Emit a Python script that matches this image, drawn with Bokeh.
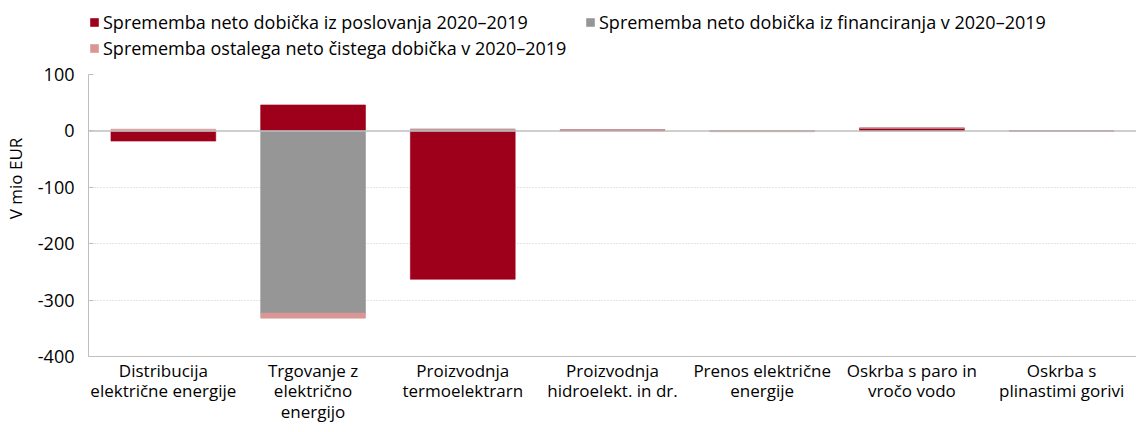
from bokeh.plotting import figure
from bokeh.models import ColumnDataSource, Legend, LegendItem, FixedTicker, Span, Range1d, FactorRange
from bokeh.embed import file_html
from bokeh.resources import INLINE
import numpy as np

categories = [
    "Distribucija\nelektrične energije",
    "Trgovanje z\nelektrično\nenergijo",
    "Proizvodnja\ntermoelektrarn",
    "Proizvodnja\nhidroelekt. in dr.",
    "Prenos električne\nenergije",
    "Oskrba s paro in\nvročo vodo",
    "Oskrba s\nplinastimi gorivi",
]
poslovanje = [-18, 46, -263, 2, 0, 5, 0]
financiranje = [0, -323, 3, 0, -0.5, 0, -0.7]
ostalo = [3, -9, 0, 0, -1, 0, -0.3]
series_names = [
    "Sprememba neto dobička iz poslovanja 2020\u20132019",
    "Sprememba neto dobička iz financiranja v 2020\u20132019",
    "Sprememba ostalega neto čistega dobička v 2020\u20132019",
]
colors = ["#9E001C", "#969696", "#D99694"]
y_ticks = [100, 0, -100, -200, -300, -400]
y_tick_labels = ["100", "0", "-100", "-200", "-300", "-400"]
grid_ticks = [-100, -200, -300]

FONT = "Open Sans"

# frame spans the whole top of the figure so the legend can sit inside it;
# the y axis is bounded to -400..100, and the range extends upward to leave room
FRAME_BOTTOM = 356
Y_TOP_PX = 74
y_min, y_max = -400, 100
y_range_end = y_max + Y_TOP_PX * (y_max - y_min) / (FRAME_BOTTOM - Y_TOP_PX)

p = figure(
    x_range=FactorRange(factors=categories),
    y_range=Range1d(y_min, y_range_end),
    width=1136, height=432,
    output_backend="svg", toolbar_location=None,
    min_border_left=87, min_border_right=0, min_border_top=0,
    min_border_bottom=432 - FRAME_BOTTOM,
)
p.outline_line_color = None

series = [poslovanje, financiranje, ostalo]
pos_base = np.zeros(len(categories))
neg_base = np.zeros(len(categories))
renderers = []
for vals, name, col in zip(series, series_names, colors):
    v = np.array(vals, dtype=float)
    bottom = np.where(v >= 0, pos_base, neg_base)
    top = bottom + v
    pos_base = np.where(v >= 0, top, pos_base)
    neg_base = np.where(v < 0, top, neg_base)
    src = ColumnDataSource(dict(x=categories, bottom=bottom, top=top))
    r = p.vbar(x="x", bottom="bottom", top="top", width=0.7, source=src,
               fill_color=col, line_color=col, line_alpha=0.6, line_width=1)
    renderers.append(r)

zero = Span(location=0, dimension="width", line_color="#bfbfbf", line_width=1.5)
p.add_layout(zero)

p.xgrid.grid_line_color = None
p.ygrid.ticker = FixedTicker(ticks=grid_ticks)
p.ygrid.grid_line_color = "#c8c8c8"
p.ygrid.grid_line_dash = "1 2"

p.yaxis.ticker = FixedTicker(ticks=y_ticks)
p.yaxis.bounds = (y_min, y_max)
p.yaxis.major_label_overrides = {t: s for t, s in zip(y_ticks, y_tick_labels)}
p.yaxis.axis_label = "V mio EUR"
p.yaxis.axis_label_text_font = FONT
p.yaxis.axis_label_text_font_size = "17px"
p.yaxis.axis_label_text_font_style = "normal"
p.yaxis.axis_label_standoff = 8
p.yaxis.major_label_text_font = FONT
p.yaxis.major_label_text_font_size = "18px"
p.yaxis.major_label_standoff = 14
p.yaxis.axis_line_color = "#bfbfbf"
p.yaxis.major_tick_line_color = "#bfbfbf"
p.yaxis.major_tick_out = 0
p.yaxis.major_tick_in = 5
p.yaxis.minor_tick_line_color = None

p.xaxis.axis_line_color = "#bfbfbf"
p.xaxis.major_tick_line_color = None
p.xaxis.major_tick_out = 0
p.xaxis.major_tick_in = 0
p.xaxis.minor_tick_line_color = None
p.xaxis.major_label_text_font = FONT
p.xaxis.major_label_text_font_size = "17px"
p.xaxis.major_label_text_line_height = 0.9
p.xaxis.major_label_standoff = 2
p.xaxis.major_label_text_color = "#000000"
p.yaxis.major_label_text_color = "#000000"
p.yaxis.axis_label_text_color = "#000000"

legend = Legend(
    items=[LegendItem(label=n, renderers=[r]) for n, r in zip(series_names, renderers)],
    location=(1, FRAME_BOTTOM - 61), orientation="horizontal", ncols=2,
    label_text_font=FONT, label_text_font_size="18px", label_text_color="#000000",
    glyph_width=10, glyph_height=10, label_standoff=4,
    spacing=0, padding=0, margin=0, label_width=482, label_height=26,
    border_line_color=None, background_fill_alpha=0,
)
p.add_layout(legend, "center")

open("out.html", "w").write(file_html(p, INLINE))
